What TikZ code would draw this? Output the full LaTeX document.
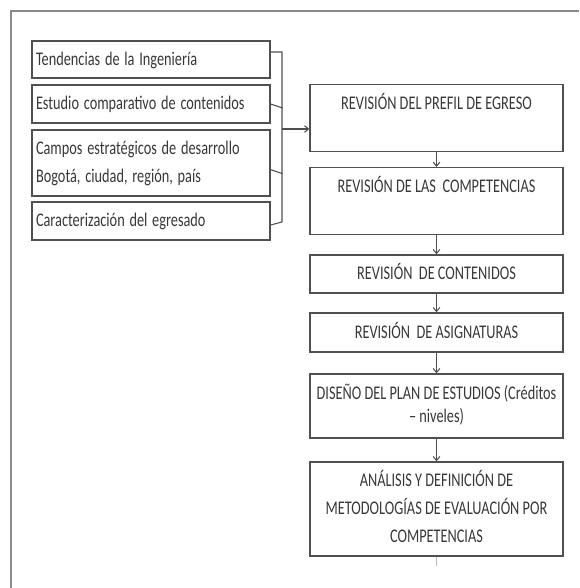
\documentclass[tikz,border=0pt]{standalone}
\usepackage{fontspec}
\setmainfont{Carlito}
\usepackage{graphicx}
\usepackage{xcolor}
\usepackage{tikz}
\usetikzlibrary{arrows.meta}
\usetikzlibrary{positioning}
\usetikzlibrary{calc}

\definecolor{linegray}{HTML}{505050}
\definecolor{textgray}{HTML}{383838}
\definecolor{framegray}{HTML}{8A8A8A}

% texto estrecho
\newcommand{\centrado}[1]{\scalebox{0.74}[1]{\begin{tabular}[t]{@{}c@{}}#1\end{tabular}}}
\newcommand{\izquierda}[1]{\scalebox{0.74}[1]{\begin{tabular}[t]{@{}l@{}}#1\end{tabular}}}

\tikzset{
	fuente/.style = {draw = linegray, line width = 1pt, text = textgray, inner xsep = 3pt, inner ysep = 0pt,
		font = \fontsize{14.5pt}{21pt}\selectfont},
	lbox/.style = {fuente, rectangle, text width = 172.5pt, align = left},
	rbox/.style = {fuente, rectangle, minimum width = 189.75pt},
	rtop/.style = {rbox, anchor = north, text height = 18.5pt, text depth = 31.5pt},
	linea/.style = {draw = linegray, line width = 0.8pt},
}

\begin{document}
\begin{tikzpicture}[x = 0.75pt, y = -0.75pt, >={Straight Barb[length=3pt, width=5pt]}]
			\useasboundingbox (0, 0) rectangle (579, 588);
			% marco exterior
			\draw[draw = framegray, line width = 1.1pt] (11, 588) -- (11, 11) -- (579, 11);
			% entradas
			\node[lbox, minimum height = 27.75pt] (tend) at (151, 59.5) {\izquierda{Tendencias de la Ingeniería}};
			\node[lbox, minimum height = 28.5pt] (estu) at (151, 104) {\izquierda{Estudio comparativo de contenidos}};
			\node[lbox, minimum height = 49.5pt] (camp) at (151, 163) {\izquierda{Campos estratégicos de desarrollo\\Bogotá, ciudad, región, país}};
			\node[lbox, minimum height = 28.5pt] (cara) at (151, 221) {\izquierda{Caracterización del egresado}};
			% etapas
			\node[rtop] (perf) at (436.5, 84) {\centrado{REVISIÓN DEL PREFIL DE EGRESO}};
			\node[rtop] (comp) at (436.5, 167) {\centrado{REVISIÓN DE LAS\ \ COMPETENCIAS}};
			\node[rbox, minimum height = 28.5pt] (cont) at (436.5, 274) {\centrado{REVISIÓN\ \ DE CONTENIDOS}};
			\node[rbox, minimum height = 29.25pt] (asig) at (436.5, 332.5) {\centrado{REVISIÓN\ \ DE ASIGNATURAS}};
			\node[rbox, minimum height = 48pt, font = \fontsize{14.5pt}{17.5pt}\selectfont] (plan) at (436.5, 406) {\centrado{DISEÑO DEL PLAN DE ESTUDIOS (Créditos\\– niveles)}};
			\node[rbox, minimum height = 70.5pt] (eval) at (436.5, 509) {\centrado{ANÁLISIS Y DEFINICIÓN DE\\METODOLOGÍAS DE EVALUACIÓN POR\\COMPETENCIAS}};
			% llave
			\coordinate (lsup) at (282, 52);
			\coordinate (linf) at (282, 222);
			\coordinate (lmed) at (282, 129);
			\draw[linea] (tend.east |- lsup) -- (lsup) -- (linf) -- ([yshift = -3pt]cara.east);
			\draw[linea] (estu.east) -- ++(12, 4);
			\draw[linea] ([yshift = -5pt]camp.east) -- ++(12, 4);
			\draw[linea, ->] (lmed) -- (perf.west |- lmed);
			\draw[linea, ->] (perf.south) -- (comp.north);
			\draw[linea, ->] (comp.south) -- (cont.north);
			\draw[linea, ->] (cont.south) -- (asig.north);
			\draw[linea, ->] (asig.south) -- (plan.north);
			\draw[linea, ->] (plan.south) -- (eval.north);
			\draw[draw = framegray!60, line width = 0.6pt] (eval.south) -- ++(0, 9);
		\end{tikzpicture}
\end{document}
